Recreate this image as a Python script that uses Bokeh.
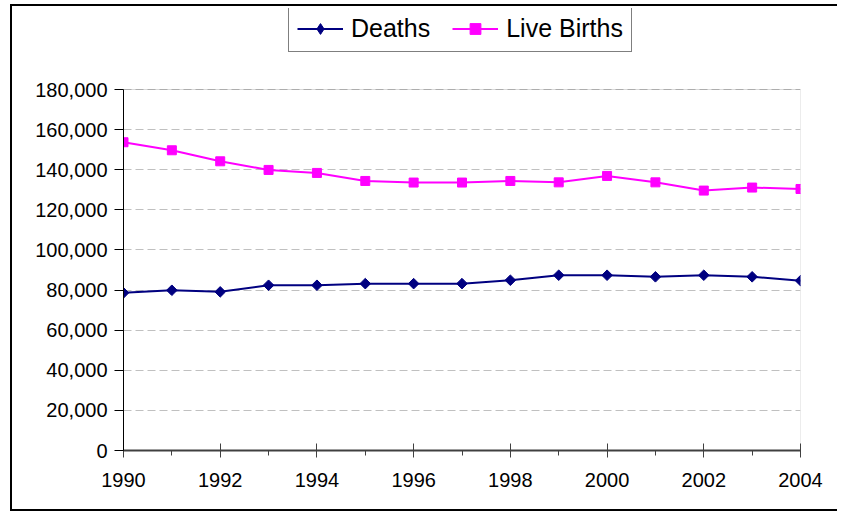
import math
from bokeh.plotting import figure
from bokeh.models import (ColumnDataSource, FixedTicker, NumeralTickFormatter,
                          Legend, LegendItem, Range1d, BoxAnnotation)
from bokeh.embed import file_html
from bokeh.resources import INLINE

years = [1990, 1991, 1992, 1993, 1994, 1995, 1996, 1997, 1998, 1999,
         2000, 2001, 2002, 2003, 2004]
deaths = [78600, 79900, 79100, 82400, 82400, 83200, 83200, 83200, 84900,
          87400, 87400, 86600, 87400, 86600, 84700]
live_births = [153700, 149700, 144200, 139900, 138400, 134400, 133600,
               133600, 134400, 133700, 136900, 133700, 129600, 131100, 130400]
y_ticks = [0, 20000, 40000, 60000, 80000, 100000, 120000, 140000, 160000, 180000]
x_major = [1990, 1992, 1994, 1996, 1998, 2000, 2002, 2004]
x_minor = [1991, 1993, 1995, 1997, 1999, 2001, 2003]

src = ColumnDataSource(dict(year=years, deaths=deaths, births=live_births))

FONT = "Liberation Sans"

# layout (pixels)
W, H = 827, 507
LEFT, RIGHT, TOP, BOTTOM = 111, 39, 2, 63
AXIS_PX = 361                      # pixel height of 0..180,000
frame_h = H - TOP - BOTTOM
y_max = y_ticks[-1]
y_end = y_max * frame_h / AXIS_PX  # extra room above the plot area for the legend

p = figure(width=W, height=H, output_backend="svg", toolbar_location=None,
           x_range=Range1d(years[0], years[-1]), y_range=Range1d(0, y_end),
           min_border_left=LEFT, min_border_right=RIGHT, min_border_top=TOP,
           min_border_bottom=BOTTOM)
p.margin = (4, 0, 0, 10)
p.styles = {"border-left": "2px solid black", "border-top": "2px solid black",
            "border-bottom": "2px solid black"}
p.background_fill_color = "white"
p.border_fill_color = "white"
p.outline_line_color = None

# plot-area border (grey)
p.add_layout(BoxAnnotation(left=years[0], right=years[-1], bottom=0, top=y_max,
                           fill_alpha=0, line_color="#808080", line_width=1,
                           level="underlay"))

# axes
p.xaxis.ticker = FixedTicker(ticks=x_major, minor_ticks=x_minor)
p.yaxis.ticker = FixedTicker(ticks=y_ticks)
p.yaxis.formatter = NumeralTickFormatter(format="0,0")
p.yaxis.bounds = (0, y_max)
p.yaxis.minor_tick_line_color = None
for ax in (p.xaxis, p.yaxis):
    ax.major_label_text_font = FONT
    ax.major_label_text_font_size = "20px"
    ax.major_label_text_color = "black"
p.yaxis.axis_line_color = "black"
p.yaxis.major_tick_line_color = "black"
p.yaxis.major_tick_in = 0
p.yaxis.major_tick_out = 9
p.yaxis.major_label_standoff = 7
p.xaxis.axis_line_color = "#404040"
p.xaxis.axis_line_width = 2
p.xaxis.major_tick_line_color = "#404040"
p.xaxis.minor_tick_line_color = "#404040"
p.xaxis.major_tick_in = 7
p.xaxis.major_tick_out = 7
p.xaxis.minor_tick_in = 0
p.xaxis.minor_tick_out = 5
p.xaxis.major_label_standoff = 15

p.xgrid.grid_line_color = None
p.ygrid.grid_line_color = "#c0c0c0"
p.ygrid.grid_line_dash = "8 4"
p.ygrid.grid_line_width = 1

# series
l1 = p.line("year", "deaths", source=src, line_color="#000080", line_width=2)
m1 = p.scatter("year", "deaths", source=src, marker="square", angle=math.pi / 4,
               size=7.5, fill_color="#000080", line_color="#000080")
l2 = p.line("year", "births", source=src, line_color="#FF00FF", line_width=2)
m2 = p.scatter("year", "births", source=src, marker="square", size=9,
               fill_color="#FF00FF", line_color="#FF00FF")

# hidden marker renderers used only for the legend swatches
k1 = p.scatter("year", "deaths", source=src, marker="diamond", size=11,
               fill_color="#000080", line_color="#000080", visible=False)
k2 = p.scatter("year", "births", source=src, marker="square", size=7,
               fill_color="#FF00FF", line_color="#FF00FF", visible=False)

legend = Legend(items=[LegendItem(label="Deaths", renderers=[l1, k1]),
                       LegendItem(label="Live Births", renderers=[l2, k2])],
                orientation="horizontal", location=(165, 398))
legend.label_text_font = FONT
legend.label_text_font_size = "25px"
legend.label_text_color = "black"
legend.border_line_color = "black"
legend.border_line_width = 1
legend.background_fill_alpha = 1
legend.inactive_fill_alpha = 0
legend.glyph_width = 46
legend.glyph_height = 27
legend.label_height = 27
legend.label_standoff = 8
legend.spacing = 22
legend.padding = 8
legend.margin = 0
p.add_layout(legend, "center")

open("out.html", "w").write(file_html(p, INLINE))
